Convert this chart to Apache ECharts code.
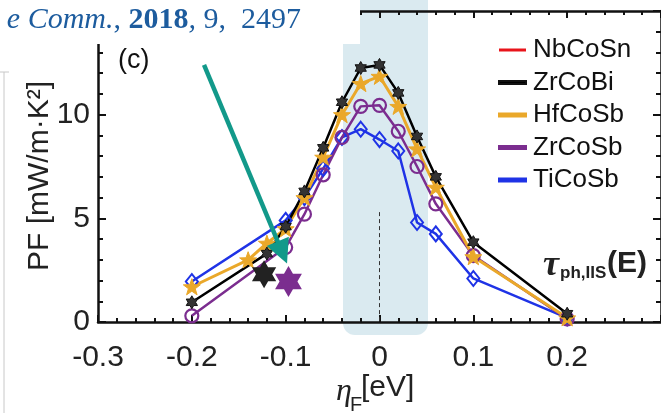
<!DOCTYPE html>
<html><head><meta charset="utf-8">
<script src="https://cdn.jsdelivr.net/npm/echarts@6/dist/echarts.min.js"></script>
<style>html,body{margin:0;padding:0;background:#fff}#c{width:661px;height:413px}</style>
</head><body><div id="c"></div>
<script>
// ---- data ----
const seriesNames = ['NbCoSn', 'ZrCoBi', 'HfCoSb', 'ZrCoSb', 'TiCoSb'];
const xTicks = [-0.3, -0.2, -0.1, 0, 0.1, 0.2];
const yTicks = [0, 5, 10];

const zrCoBiX = [-0.2, -0.12, -0.1, -0.08, -0.06, -0.04, -0.02, 0, 0.02, 0.04, 0.06, 0.1, 0.2];
const zrCoBiY = [0.95, 3.3, 4.6, 6.3, 8.4, 10.6, 12.25, 12.4, 11.05, 8.95, 7.0, 3.85, 0.4];

const hfCoSbX = [-0.2, -0.14, -0.12, -0.1, -0.08, -0.06, -0.04, -0.02, 0, 0.02, 0.04, 0.06, 0.1, 0.2];
const hfCoSbY = [1.7, 3.0, 3.8, 4.5, 6.0, 7.95, 10.0, 11.5, 11.85, 10.4, 8.35, 6.5, 3.15, 0.2];

const zrCoSbX = [-0.2, -0.1, -0.08, -0.06, -0.04, -0.02, 0, 0.02, 0.04, 0.06, 0.1, 0.2];
const zrCoSbY = [0.3, 3.6, 5.2, 7.1, 8.9, 10.4, 10.45, 9.2, 7.5, 5.7, 3.2, 0.15];

const tiCoSbX = [-0.2, -0.1, -0.08, -0.06, -0.04, -0.02, 0, 0.02, 0.04, 0.06, 0.1, 0.2];
const tiCoSbY = [1.95, 4.9, 6.0, 7.4, 8.9, 9.3, 8.8, 8.25, 4.8, 4.25, 2.1, 0.2];

const nbCoSnX = [];
const nbCoSnY = [];

// experimental big hexagram points
const expBiX = [-0.123];
const expBiY = [2.3];
const expSbX = [-0.097];
const expSbY = [1.95];

// arrow annotation (data coords)
const arrowFrom = [-0.187, 12.4];
const arrowTo = [-0.1035, 3.35];
// dashed marker at eta=0
const dashFrom = [0, 5.3];
const dashTo = [0, 0];

// ---- build ----
const zip = (xs, ys) => xs.map((x, i) => [x, ys[i]]);
const C = {
  NbCoSn: '#e8141b', ZrCoBi: '#000000', HfCoSb: '#eaa82a', ZrCoSb: '#7b2d8f', TiCoSb: '#1f33e6'
};
const hexPath = 'path://M0,-10L2.887,-5L8.66,-5L5.774,0L8.66,5L2.887,5L0,10L-2.887,5L-8.66,5L-5.774,0L-8.66,-5L-2.887,-5Z';
const starPath = 'path://M0,-10L2.351,-3.236L9.511,-3.09L3.804,1.236L5.878,8.09L0,4L-5.878,8.09L-3.804,1.236L-9.511,-3.09L-2.351,-3.236Z';
const FONT = 'Liberation Sans';

const chart = echarts.init(document.getElementById('c'), null, {renderer: 'canvas'});
const fmt = v => { const r = Math.round(v * 10) / 10; return r === 0 ? '0' : r.toFixed(1); };

const axisLine = {show: true, onZero: false, lineStyle: {color: '#111', width: 2.5}};
const tickX = {show: true, inside: true, length: 7, lineStyle: {color: '#111', width: 2}};
const minorX = {show: true, splitNumber: 5, length: 4, lineStyle: {color: '#111', width: 2}};
const tickY = {show: true, inside: true, length: 8, lineStyle: {color: '#111', width: 2}};
const minorY = {show: true, splitNumber: 5, length: 5, lineStyle: {color: '#111', width: 2}};
const option = {
  animation: false,
  backgroundColor: '#ffffff',
  grid: {left: 98, right: -4, top: 11, bottom: 91, containLabel: false},
  xAxis: [{
    type: 'value', min: -0.3, max: 0.3, interval: 0.1, position: 'bottom',
    axisLine: axisLine, axisTick: tickX, minorTick: minorX,
    splitLine: {show: false},
    axisLabel: {show: true, margin: 21, fontSize: 30, fontFamily: FONT, color: '#222',
      showMaxLabel: false, formatter: v => xTicks.some(t => Math.abs(t - v) < 1e-6) ? fmt(v) : ''}
  }, {
    type: 'value', min: -0.3, max: 0.3, interval: 0.1, position: 'top',
    axisLine: axisLine, axisTick: tickX, minorTick: minorX,
    splitLine: {show: false}, axisLabel: {show: false}
  }],
  yAxis: [{
    type: 'value', min: 0, max: 15, interval: 5, position: 'left',
    axisLine: axisLine, axisTick: tickY, minorTick: minorY,
    splitLine: {show: false},
    axisLabel: {show: true, margin: 8, fontSize: 30, fontFamily: FONT, color: '#222',
      showMaxLabel: false, formatter: v => yTicks.indexOf(v) >= 0 ? String(v) : ''}
  }, {
    type: 'value', min: 0, max: 15, interval: 5, position: 'right',
    axisLine: axisLine, axisTick: tickY, minorTick: minorY,
    splitLine: {show: false}, axisLabel: {show: false}
  }],
  legend: {
    orient: 'vertical', left: 493, top: 32, itemGap: 6.5,
    icon: 'rect', itemWidth: 27, itemHeight: 3,
    textStyle: {fontSize: 26, fontFamily: FONT, color: '#111', lineHeight: 26, padding: [0, 0, 0, 2]},
    data: seriesNames.map(n => ({name: n, itemStyle: {color: C[n]}}))
  },
  series: [
    {name: 'NbCoSn', type: 'line', data: zip(nbCoSnX, nbCoSnY), color: C.NbCoSn,
      lineStyle: {color: C.NbCoSn, width: 2.5}},
    {name: 'TiCoSb', type: 'line', data: zip(tiCoSbX, tiCoSbY), color: C.TiCoSb,
      lineStyle: {color: C.TiCoSb, width: 2.5},
      symbol: 'diamond', symbolSize: [12, 15],
      itemStyle: {color: 'transparent', borderColor: C.TiCoSb, borderWidth: 2}},
    {name: 'ZrCoSb', type: 'line', data: zip(zrCoSbX, zrCoSbY), color: C.ZrCoSb,
      lineStyle: {color: C.ZrCoSb, width: 2.5},
      symbol: 'circle', symbolSize: 13,
      itemStyle: {color: 'transparent', borderColor: C.ZrCoSb, borderWidth: 2.2}},
    {name: 'HfCoSb', type: 'line', data: zip(hfCoSbX, hfCoSbY), color: C.HfCoSb,
      lineStyle: {color: C.HfCoSb, width: 3},
      symbol: starPath, symbolSize: 17, symbolKeepAspect: true,
      itemStyle: {color: C.HfCoSb, borderColor: C.HfCoSb, borderWidth: 1}},
    {name: 'ZrCoBi', type: 'line', data: zip(zrCoBiX, zrCoBiY), color: C.ZrCoBi,
      lineStyle: {color: C.ZrCoBi, width: 2.5},
      symbol: hexPath, symbolSize: 13, symbolKeepAspect: true,
      itemStyle: {color: '#333', borderColor: '#111', borderWidth: 1}},
    {name: 'expBi', type: 'scatter', data: zip(expBiX, expBiY), z: 4,
      symbol: hexPath, symbolSize: 28, symbolKeepAspect: true,
      itemStyle: {color: '#222', opacity: 1}},
    {name: 'expSb', type: 'scatter', data: zip(expSbX, expSbY), z: 4,
      symbol: hexPath, symbolSize: 31, symbolKeepAspect: true,
      itemStyle: {color: '#7b2d8f', opacity: 1},
      markLine: {
        silent: true, animation: false,
        label: {show: false},
        data: [
          [{coord: arrowFrom, symbol: 'none', lineStyle: {color: '#12998a', width: 4.5, type: 'solid'}},
           {coord: arrowTo, symbol: 'triangle', symbolSize: 24}],
          [{coord: dashFrom, symbol: 'none', lineStyle: {color: '#333', width: 1, type: [4, 3]}},
           {coord: dashTo, symbol: 'none'}]
        ]
      }}
  ],
  graphic: {elements: [
    {type: 'rect', z: -1, shape: {x: 343, y: -10, width: 85, height: 345, r: [0, 0, 12, 12]},
      style: {fill: '#daeaf0'}},
    {type: 'rect', z: 100, shape: {x: 0, y: 0, width: 360, height: 44}, style: {fill: '#ffffff'}},
    {type: 'line', z: 100, shape: {x1: 4, y1: 72, x2: 4, y2: 413}, style: {stroke: '#c8c8c8', lineWidth: 1}},
    {type: 'line', z: 100, shape: {x1: 0, y1: 72, x2: 9, y2: 72}, style: {stroke: '#c8c8c8', lineWidth: 1}},
    {type: 'text', z: 101, x: 301, y: 20, style: {
      text: '{i|e Comm.}{n|, }{b|2018}{i|, }{n|9,  2497}', align: 'right', verticalAlign: 'middle',
      rich: {
        i: {fontFamily: 'Liberation Serif', fontStyle: 'italic', fontSize: 30, fill: '#1d5c9e'},
        b: {fontFamily: 'Liberation Serif', fontWeight: 'bold', fontSize: 30, fill: '#1d5c9e'},
        n: {fontFamily: 'Liberation Serif', fontSize: 30, fill: '#1d5c9e'}
      }}},
    {type: 'text', z: 101, x: 118, y: 61, style: {text: '(c)', font: '27px "Liberation Sans"', fill: '#111', verticalAlign: 'middle'}},
    {type: 'text', z: 101, x: 40, y: 176, rotation: Math.PI / 2,
      style: {text: 'PF [mW/m·K²]', font: '30px "Liberation Sans"', fill: '#222', align: 'center', verticalAlign: 'middle'}},
    {type: 'text', z: 101, x: 336, y: 392, style: {text: 'η', font: 'italic 32px "Liberation Serif"', fill: '#222', verticalAlign: 'middle'}},
    {type: 'text', z: 101, x: 350, y: 405, style: {text: 'F', font: '20px "Liberation Sans"', fill: '#222', verticalAlign: 'middle'}},
    {type: 'text', z: 101, x: 361, y: 388, style: {text: '[eV]', font: '30px "Liberation Sans"', fill: '#222', verticalAlign: 'middle'}},
    {type: 'text', z: 101, x: 543, y: 266, style: {text: 'τ', font: 'italic bold 36px "Liberation Serif"', fill: '#222', verticalAlign: 'middle'}},
    {type: 'text', z: 101, x: 560, y: 273, style: {text: 'ph,IIS', font: 'bold 17px "Liberation Sans"', fill: '#222', verticalAlign: 'middle'}},
    {type: 'text', z: 101, x: 607, y: 264, style: {text: '(E)', font: 'bold 30px "Liberation Sans"', fill: '#222', verticalAlign: 'middle'}}
  ]}
};
chart.setOption(option);
</script></body></html>
